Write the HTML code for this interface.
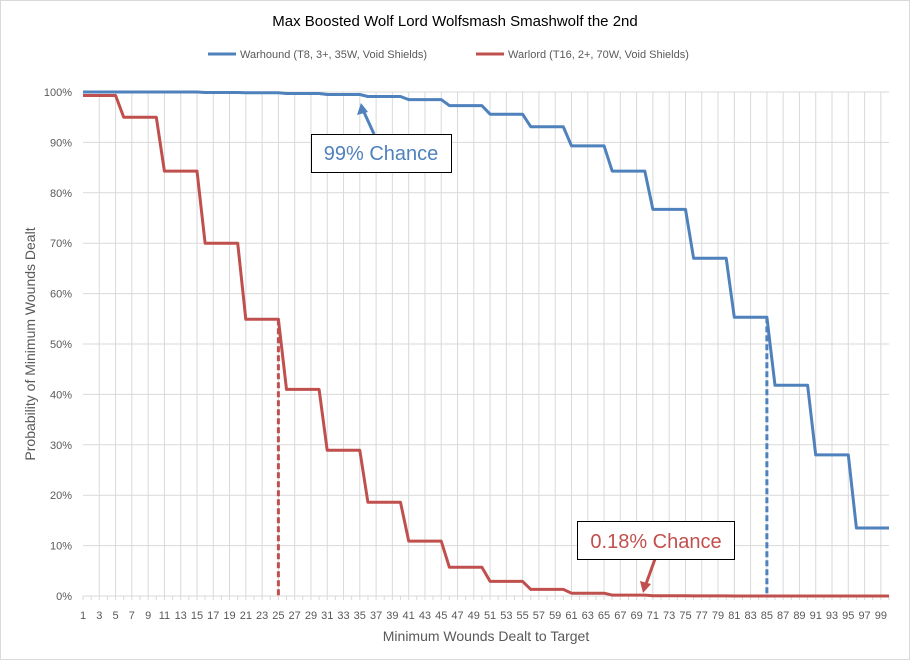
<!DOCTYPE html>
<html><head><meta charset="utf-8"><style>
html,body{margin:0;padding:0;background:#fff;}
svg{display:block;font-family:"Liberation Sans",Calibri,sans-serif;}
</style></head><body>
<svg id="s" width="910" height="660" xmlns="http://www.w3.org/2000/svg">
<rect x="0.5" y="0.5" width="909" height="659" fill="#fff" stroke="#d9d9d9"/>
<text x="455" y="26" text-anchor="middle" font-size="15" fill="#000">Max Boosted Wolf Lord Wolfsmash Smashwolf the 2nd</text>
<line x1="208" y1="54" x2="236" y2="54" stroke="#4f81bd" stroke-width="3"/>
<text x="240" y="58" font-size="11" fill="#595959">Warhound (T8, 3+, 35W, Void Shields)</text>
<line x1="476" y1="54" x2="504" y2="54" stroke="#c0504d" stroke-width="3"/>
<text x="508" y="58" font-size="11" fill="#595959">Warlord (T16, 2+, 70W, Void Shields)</text>
<g id="grid"></g>
<g id="series"></g>
<text transform="translate(35,344) rotate(-90)" text-anchor="middle" font-size="14" fill="#595959">Probability of Minimum Wounds Dealt</text>
<text x="486" y="641" text-anchor="middle" font-size="14" fill="#595959">Minimum Wounds Dealt  to Target</text>
<line x1="374" y1="134" x2="363" y2="110" stroke="#4f81bd" stroke-width="3"/>
<polygon points="361,103 357,115 368,112" fill="#4f81bd"/>
<rect x="311.5" y="134.5" width="140" height="38" fill="#fff" stroke="#000"/>
<text x="381" y="160" text-anchor="middle" font-size="20" fill="#4f81bd">99% Chance</text>
<line x1="655" y1="559" x2="646" y2="584" stroke="#c0504d" stroke-width="3"/>
<polygon points="643,593 640,581 651,584" fill="#c0504d"/>
<rect x="577.5" y="521.5" width="157" height="38" fill="#fff" stroke="#000"/>
<text x="656" y="548" text-anchor="middle" font-size="20" fill="#c0504d">0.18% Chance</text>
</svg>
<script>
var ns="http://www.w3.org/2000/svg";
function X(i){return 83+(i-1)*(806/99);}
function Y(p){return 596-p*5.04;}
function el(t,a,p,txt){var e=document.createElementNS(ns,t);for(var k in a)e.setAttribute(k,a[k]);if(txt!==undefined)e.textContent=txt;p.appendChild(e);return e;}
var g=document.getElementById('grid'),s=document.getElementById('series');
for(var v=10;v<=100;v+=10)el('line',{x1:83,x2:889,y1:Y(v),y2:Y(v),stroke:'#d9d9d9','stroke-width':1},g);
for(var i=3;i<=100;i+=2)el('line',{x1:X(i),x2:X(i),y1:Y(100),y2:596,stroke:'#d9d9d9','stroke-width':1},g);
for(var i=1;i<=100;i++)el('line',{x1:X(i),x2:X(i),y1:596,y2:600,stroke:'#d9d9d9'},g);
el('line',{x1:83,x2:889,y1:596,y2:596,stroke:'#d9d9d9'},g);
for(var v=0;v<=100;v+=10)el('text',{x:72,y:Y(v)+4,'text-anchor':'end','font-size':11,fill:'#595959'},g,v+'%');
for(var i=1;i<=99;i+=2)el('text',{x:X(i),y:619,'text-anchor':'middle','font-size':11,fill:'#595959'},g,''+i);
var red=[99.3,95,84.3,70,54.9,41,28.9,18.6,10.9,5.7,2.9,1.3,0.55,0.18,0.05,0.01,0,0,0,0];
var blue=[100,100,100,99.9,99.85,99.7,99.5,99.1,98.5,97.3,95.6,93.1,89.3,84.3,76.7,67,55.3,41.8,28,13.5];
function path(arr){var d='';for(var i=1;i<=100;i++){var v=arr[Math.floor((i-1)/5)];d+=(i==1?'M':'L')+X(i).toFixed(1)+','+Y(v).toFixed(1);}return d;}
el('path',{d:path(blue),fill:'none',stroke:'#4f81bd','stroke-width':3,'stroke-linejoin':'round'},s);
el('path',{d:path(red),fill:'none',stroke:'#c0504d','stroke-width':3,'stroke-linejoin':'round'},s);
el('line',{x1:X(25),x2:X(25),y1:Y(54.9),y2:596,stroke:'#c0504d','stroke-width':3,'stroke-dasharray':'6,3'},s);
el('line',{x1:X(85),x2:X(85),y1:Y(55.3),y2:596,stroke:'#4f81bd','stroke-width':3,'stroke-dasharray':'6,3'},s);
</script>
</body></html>
